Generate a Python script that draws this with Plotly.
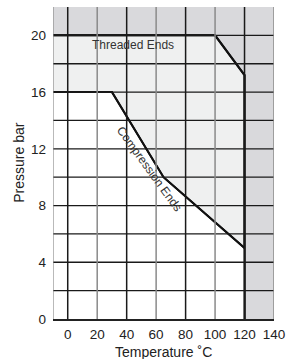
import plotly.graph_objects as go

# Data
threaded_temp = [-10, 100, 120, 120]
threaded_press = [20, 20, 17.2, 0]
compression_temp = [-10, 30, 65, 120]
compression_press = [16, 16, 10, 5]
x_ticks = [0, 20, 40, 60, 80, 100, 120, 140]
y_ticks = [0, 4, 8, 12, 16, 20]
y_grid = [2, 4, 6, 8, 10, 12, 14, 16, 18, 20]
x_range = [-10, 140]
y_range = [0, 22]

DARK = "#d9d9dc"
LIGHT = "#eff0f0"
FONT = "Liberation Sans, Arial, sans-serif"

fig = go.Figure()
fig.add_trace(go.Scatter(x=threaded_temp, y=threaded_press, mode="lines",
                         fill="tozeroy", fillcolor=LIGHT,
                         line=dict(color="#111", width=2), hoverinfo="skip"))
fig.add_trace(go.Scatter(x=compression_temp, y=compression_press, mode="lines",
                         fill="tozeroy", fillcolor="white",
                         line=dict(color="#111", width=2), hoverinfo="skip"))

shapes = []
for v in y_grid:
    shapes.append(dict(type="line", xref="x", yref="y", x0=x_range[0], x1=x_range[1],
                       y0=v, y1=v, line=dict(color="#1a1a1a", width=1.3), layer="above"))
for i, v in enumerate(x_ticks):
    col = "#1a1a1a" if i % 2 == 0 else "#8a8a8a"
    shapes.append(dict(type="line", xref="x", yref="y", x0=v, x1=v,
                       y0=y_range[0], y1=y_range[1], line=dict(color=col, width=1.5), layer="above"))
shapes.append(dict(type="line", xref="x", yref="y", x0=x_range[0], x1=x_range[0],
                   y0=y_range[0], y1=y_range[1], line=dict(color="#8a8a8a", width=1.2), layer="above"))
fig.update_layout(shapes=shapes)
# boundary lines on top of grid
fig.add_trace(go.Scatter(x=threaded_temp, y=threaded_press, mode="lines",
                         line=dict(color="#111", width=2), hoverinfo="skip"))
fig.add_trace(go.Scatter(x=compression_temp, y=compression_press, mode="lines",
                         line=dict(color="#111", width=2), hoverinfo="skip"))

fig.add_annotation(x=44, y=19.3, text="Threaded Ends", showarrow=False,
                   font=dict(family=FONT, size=12, color="#333"))
fig.add_annotation(x=55.5, y=10.6, text="Compression Ends", showarrow=False,
                   textangle=54, font=dict(family=FONT, size=12, color="#333"))
fig.add_annotation(xref="paper", yref="paper", x=0.5, y=-0.105, yanchor="middle",
                   text="Temperature ˚C", showarrow=False,
                   font=dict(family=FONT, size=14, color="#222"))
fig.add_annotation(xref="paper", yref="paper", x=-0.155, y=0.5, xanchor="center",
                   text="Pressure bar", showarrow=False, textangle=-90,
                   font=dict(family=FONT, size=14, color="#222"))

fig.update_layout(
    width=287, height=359,
    margin=dict(l=53, r=13, t=7, b=40),
    paper_bgcolor="white", plot_bgcolor=DARK,
    showlegend=False,
    font=dict(family=FONT, size=13.5, color="#222"),
    xaxis=dict(range=x_range, tickvals=x_ticks, showgrid=False, zeroline=False,
               showline=True, linecolor="#222", linewidth=1.5, ticks="",
               ticklabelstandoff=2, automargin=False),
    yaxis=dict(range=y_range, tickvals=y_ticks, showgrid=False, zeroline=False,
               showline=False, ticks="", ticklabelstandoff=6, automargin=False),
)

fig.write_html("out.html", config={"displayModeBar": False},
               post_script="document.body.style.margin='0';document.body.style.overflow='hidden';")
